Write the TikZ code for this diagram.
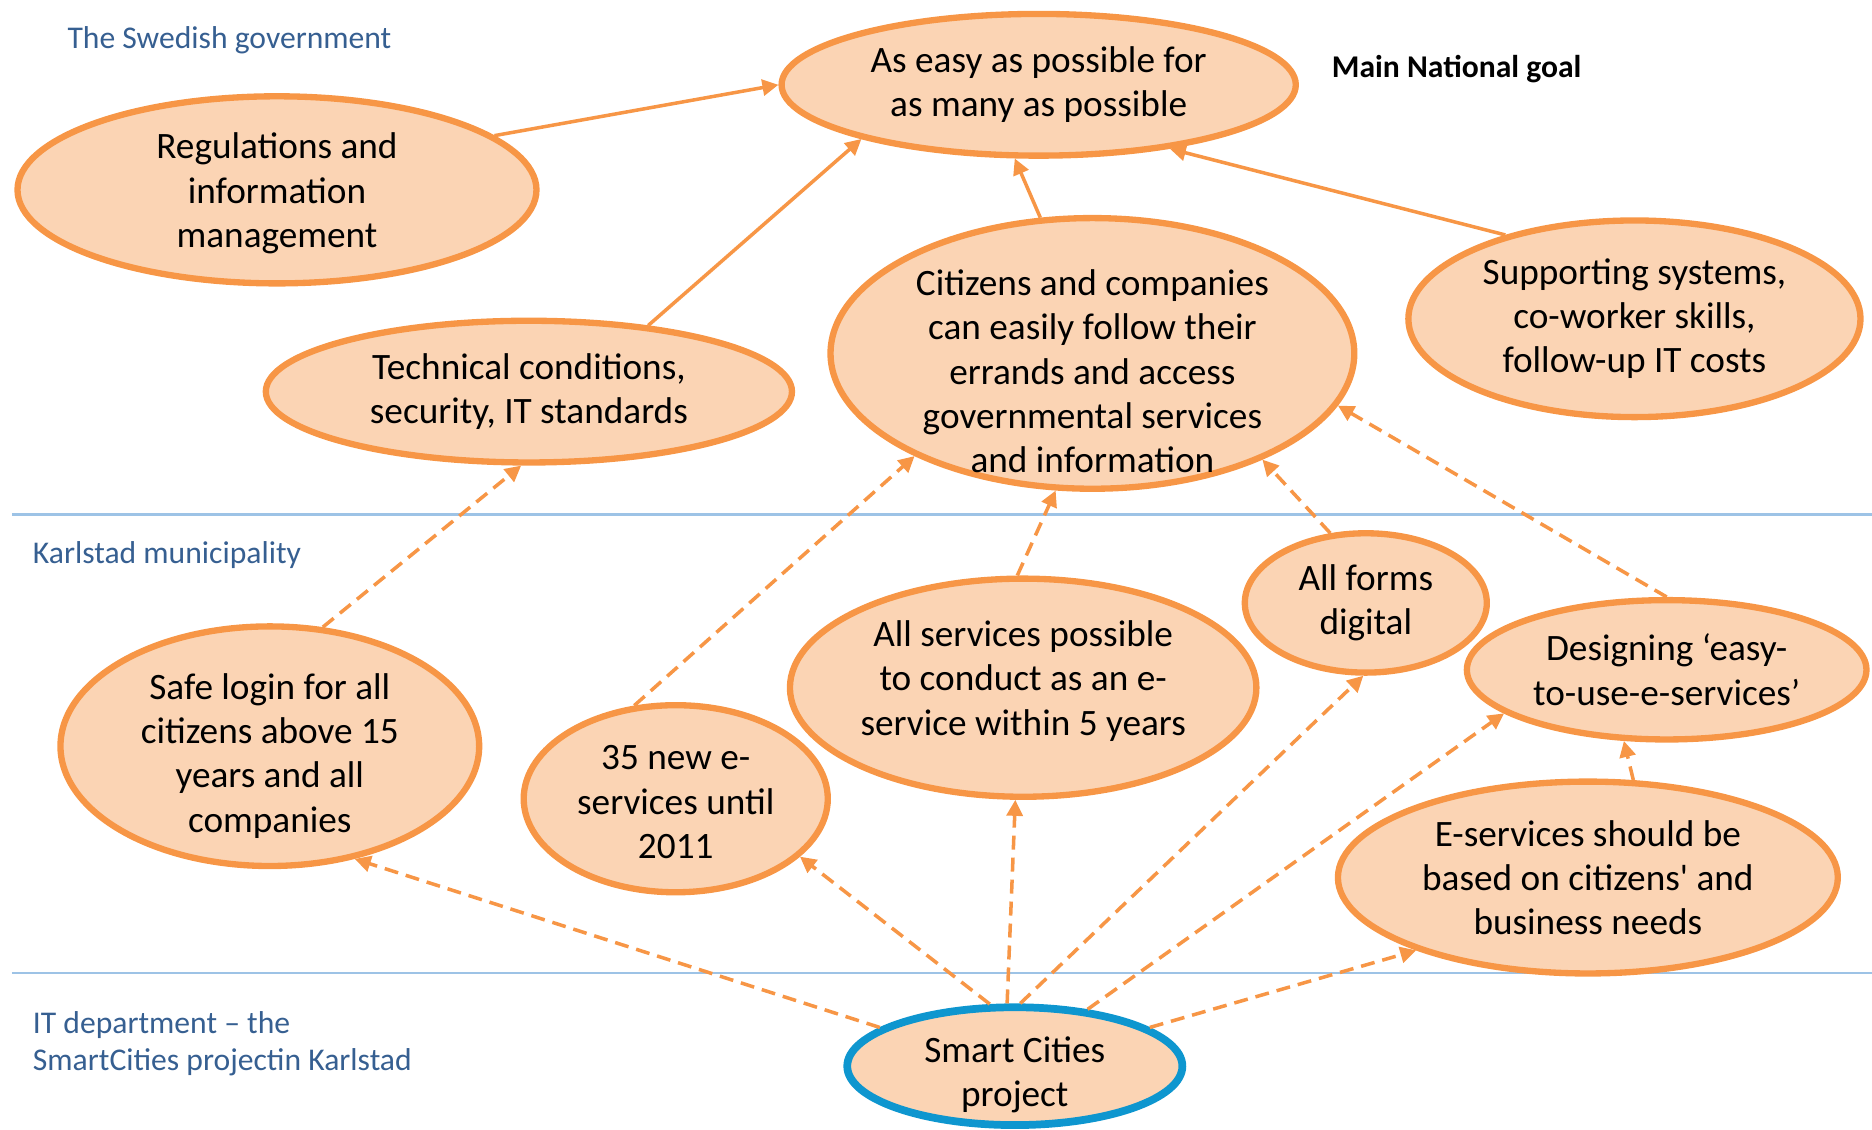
\documentclass[tikz,border=0pt]{standalone}
\usepackage{fontspec}
\setmainfont{Carlito}
\usetikzlibrary{shapes.geometric,arrows.meta}
\definecolor{goalfill}{HTML}{FBD4B4}
\definecolor{goalline}{HTML}{F79646}
\definecolor{projline}{HTML}{0E96CF}
\definecolor{levelline}{HTML}{9DC3E6}
\definecolor{leveltext}{HTML}{365F91}
\newcommand{\textlower}[1]{\rule{0pt}{#1}}
\newcommand{\textraise}[1]{\rule[-#1]{0pt}{0pt}}

\begin{document}
\begin{tikzpicture}[x=0.1194mm, y=-0.1194mm,
  goal/.style={ellipse, draw=goalline, fill=goalfill, line width=1.8pt, inner sep=-6mm, align=center, font=\fontsize{10.6}{12.6}\selectfont},
  rxy/.style 2 args={minimum width=#1*0.2388mm-1.8pt, minimum height=#2*0.2388mm-1.8pt},
  level/.style={anchor=west, align=left, inner xsep=0pt, text=leveltext, font=\fontsize{9}{10.6}\selectfont},
  supports/.style={-{Triangle[length=1.6mm,width=1.6mm]}, color=goalline, line width=1pt},
  contributes/.style={supports, dash pattern=on 1.4mm off 0.8mm}]
\useasboundingbox (0,0) rectangle (1568,946);

\draw[levelline, line width=0.7pt] (10,431) -- (1568,431);
\draw[levelline, line width=0.7pt] (10,815) -- (1568,815);

\node[level] (gov) at (56,34) {The Swedish government};
\node[level] (mun) at (27,465) {Karlstad municipality};
\node[level] (itdep) at (27,874) {IT department -- the\\SmartCities projectin Karlstad};
\node[anchor=west, inner xsep=0pt, font=\fontsize{9}{10.6}\selectfont\bfseries] (maingoal) at (1115,58) {Main National goal};

\node[goal, rxy={218}{62}] (goal) at (870,71) {As easy as possible for\\as many as possible};
\node[goal, rxy={220}{81}] (regs) at (232,159) {\textlower{3.3mm}Regulations and\\information\\management};
\node[goal, rxy={223}{62}] (tech) at (443,328) {Technical conditions,\\security, IT standards};
\node[goal, rxy={222}{116}] (citizens) at (915,296) {\textlower{6.2mm}Citizens and companies\\can easily follow their\\errands and access\\governmental services\\and information};
\node[goal, rxy={192}{85}] (support) at (1369,267) {Supporting systems,\\co-worker skills,\\follow-up IT costs};
\node[goal, rxy={178}{103}] (login) at (226,625) {\textlower{4.5mm}Safe login for all\\citizens above 15\\years and all\\companies};
\node[goal, rxy={130}{81}] (new) at (566,669) {\textlower{3.1mm}35 new e-\\services until\\2011};
\node[goal, rxy={198}{94}] (allserv) at (857,576) {All services possible\\to conduct as an e-\\service within 5 years\textraise{1.95mm}};
\node[goal, rxy={104}{61}] (forms) at (1144,505) {All forms\\digital};
\node[goal, rxy={170}{61}] (design) at (1396,561) {Designing ‘easy-\\to-use-e-services’};
\node[goal, rxy={212}{83}] (needs) at (1330,735) {E-services should be\\based on citizens\textquotesingle{} and\\business needs};
\node[goal, draw=projline, line width=2.2pt, rxy={143}{52}] (smart) at (850,893) {\textlower{4.3mm}Smart Cities\\project};

\path[supports]
(regs.14) edge (goal.180)
(tech.29) edge (goal.197)
(citizens.111) edge (goal.252)
(support.147) edge (goal.334)
;
\path[contributes]
(login.66) edge (tech.264)
(new.114) edge (citizens.210)
(allserv.93) edge (citizens.255)
(forms.117) edge (citizens.328)
(design.90) edge (citizens.348)
(smart.164) edge (login.307)
(smart.112) edge (new.335)
(smart.97) edge (allserv.266)
(smart.85) edge (forms.268)
(smart.38) edge (design.195)
(smart.16) edge (needs.203)
(needs.65) edge (design.239)
;
\end{tikzpicture}
\end{document}
